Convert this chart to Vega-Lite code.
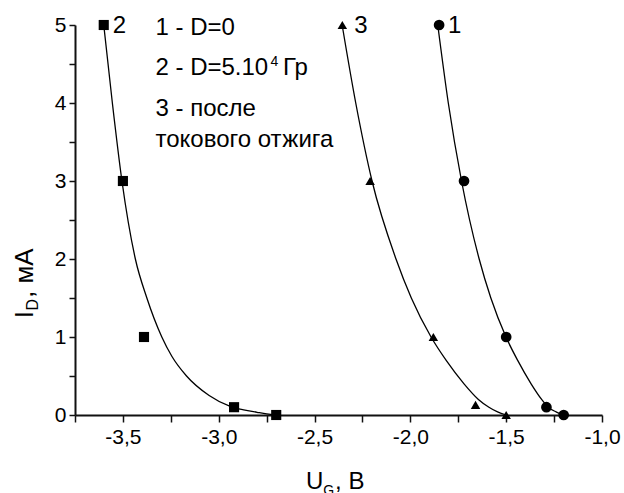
{
  "$schema": "https://vega.github.io/schema/vega-lite/v6.json",
  "width": 527,
  "height": 390,
  "autosize": {"type": "none"},
  "padding": {"left": 75, "top": 25, "right": 22, "bottom": 78},
  "background": "white",
  "config": {"view": {"stroke": null}, "font": "Liberation Sans"},
  "datasets": {
    "curves": [
      {"series": "1", "U": -1.857, "I": 5}, {"series": "1", "U": -1.802, "I": 4}, {"series": "1", "U": -1.733, "I": 3},
      {"series": "1", "U": -1.641, "I": 2}, {"series": "1", "U": -1.58, "I": 1.5}, {"series": "1", "U": -1.501, "I": 1},
      {"series": "1", "U": -1.44, "I": 0.7}, {"series": "1", "U": -1.37, "I": 0.4}, {"series": "1", "U": -1.315, "I": 0.2},
      {"series": "1", "U": -1.28, "I": 0.1}, {"series": "1", "U": -1.24, "I": 0.04}, {"series": "1", "U": -1.2, "I": 0},
      {"series": "2", "U": -3.6, "I": 5}, {"series": "2", "U": -3.555, "I": 4}, {"series": "2", "U": -3.505, "I": 3},
      {"series": "2", "U": -3.435, "I": 2}, {"series": "2", "U": -3.375, "I": 1.5}, {"series": "2", "U": -3.297, "I": 1},
      {"series": "2", "U": -3.244, "I": 0.75}, {"series": "2", "U": -3.168, "I": 0.5}, {"series": "2", "U": -3.05, "I": 0.25},
      {"series": "2", "U": -2.94, "I": 0.11}, {"series": "2", "U": -2.87, "I": 0.065}, {"series": "2", "U": -2.8, "I": 0.035},
      {"series": "2", "U": -2.75, "I": 0.015}, {"series": "2", "U": -2.7, "I": 0},
      {"series": "3", "U": -2.356, "I": 5}, {"series": "3", "U": -2.285, "I": 4}, {"series": "3", "U": -2.2, "I": 3},
      {"series": "3", "U": -2.075, "I": 2}, {"series": "3", "U": -1.995, "I": 1.5}, {"series": "3", "U": -1.892, "I": 1},
      {"series": "3", "U": -1.813, "I": 0.7}, {"series": "3", "U": -1.72, "I": 0.4}, {"series": "3", "U": -1.645, "I": 0.2},
      {"series": "3", "U": -1.59, "I": 0.1}, {"series": "3", "U": -1.545, "I": 0.04}, {"series": "3", "U": -1.5, "I": 0}
    ],
    "points": [
      {"series": "1", "U": -1.85, "I": 5}, {"series": "1", "U": -1.72, "I": 3}, {"series": "1", "U": -1.5, "I": 1},
      {"series": "1", "U": -1.29, "I": 0.1}, {"series": "1", "U": -1.2, "I": 0},
      {"series": "2", "U": -3.6, "I": 5}, {"series": "2", "U": -3.5, "I": 3}, {"series": "2", "U": -3.39, "I": 1},
      {"series": "2", "U": -2.92, "I": 0.1}, {"series": "2", "U": -2.7, "I": 0},
      {"series": "3", "U": -2.355, "I": 5}, {"series": "3", "U": -2.21, "I": 3}, {"series": "3", "U": -1.88, "I": 1},
      {"series": "3", "U": -1.66, "I": 0.13}, {"series": "3", "U": -1.5, "I": 0}
    ],
    "tags": [
      {"text": "1", "U": -1.85, "I": 5},
      {"text": "2", "U": -3.6, "I": 5},
      {"text": "3", "U": -2.34, "I": 5}
    ],
    "notes": [
      {"text": "1 - D=0", "U": -3.33, "I": 4.872},
      {"text": "2 - D=5.10", "U": -3.33, "I": 4.359},
      {"text": "Гр", "U": -2.665, "I": 4.359},
      {"text": "3 - после", "U": -3.33, "I": 3.833},
      {"text": "токового отжига", "U": -3.33, "I": 3.44},
      {"text": "U", "U": -2.544, "I": -0.95},
      {"text": ", В", "U": -2.393, "I": -0.95}
    ],
    "small": [
      {"text": "4", "U": -2.73, "I": 4.47},
      {"text": "G", "U": -2.454, "I": -1.027}
    ],
    "ytitle": [
      {"text": "I", "U": -3.969, "I": 1.24},
      {"text": ", мА", "U": -3.969, "I": 1.5}
    ],
    "ysub": [
      {"text": "D", "U": -3.941, "I": 1.34}
    ]
  },
  "encoding": {
    "x": {
      "field": "U", "type": "quantitative",
      "scale": {"domain": [-3.75, -1.0], "nice": false, "zero": false},
      "axis": {
        "title": null, "grid": false,
        "values": [-3.75, -3.5, -3.25, -3.0, -2.75, -2.5, -2.25, -2.0, -1.75, -1.5, -1.25, -1.0],
        "labelExpr": "(datum.value * 2) % 1 === 0 ? replace(replace(format(datum.value, '.1f'), '.', ','), '\u2212', '-') : ''",
        "domainColor": "#111", "domainWidth": 2,
        "tickColor": "#111", "tickWidth": 1.5, "tickSize": 7,
        "labelFont": "Liberation Sans", "labelFontSize": 21, "labelColor": "black",
        "labelPadding": 4, "labelOverlap": false, "labelFlush": false, "labelBound": false,
        "encode": {"ticks": {"update": {"y2": {"signal": "(datum.value * 2) % 1 === 0 ? 7 : 4"}}}}
      }
    },
    "y": {
      "field": "I", "type": "quantitative",
      "scale": {"domain": [0, 5], "nice": false, "zero": false},
      "axis": {
        "title": null, "grid": false,
        "values": [0, 0.5, 1, 1.5, 2, 2.5, 3, 3.5, 4, 4.5, 5],
        "labelExpr": "datum.value % 1 === 0 ? format(datum.value, 'd') : ''",
        "domainColor": "#111", "domainWidth": 2,
        "tickColor": "#111", "tickWidth": 1.5, "tickSize": 6,
        "labelFont": "Liberation Sans", "labelFontSize": 21, "labelColor": "black",
        "labelPadding": 3, "labelOverlap": false, "labelFlush": false, "labelBound": false,
        "encode": {"ticks": {"update": {"x2": {"signal": "datum.value % 1 === 0 ? -6 : -3.5"}}}}
      }
    }
  },
  "layer": [
    {
      "data": {"name": "curves"},
      "mark": {"type": "line", "interpolate": "monotone", "color": "black", "strokeWidth": 1.3},
      "encoding": {"detail": {"field": "series"}}
    },
    {
      "data": {"name": "points"},
      "mark": {"type": "point", "filled": true, "color": "black", "opacity": 1},
      "encoding": {
        "shape": {"field": "series", "type": "nominal", "legend": null,
          "scale": {"domain": ["1", "2", "3"], "range": ["circle", "square", "triangle-up"]}},
        "size": {"field": "series", "type": "nominal", "legend": null,
          "scale": {"domain": ["1", "2", "3"], "range": [115, 90, 210]}}
      }
    },
    {
      "data": {"name": "tags"},
      "mark": {"type": "text", "align": "left", "baseline": "middle", "dx": 9, "dy": 1, "fontSize": 24, "font": "Liberation Sans", "color": "black"},
      "encoding": {"text": {"field": "text"}}
    },
    {
      "data": {"name": "notes"},
      "mark": {"type": "text", "align": "left", "baseline": "alphabetic", "fontSize": 24, "font": "Liberation Sans", "color": "black"},
      "encoding": {"text": {"field": "text"}}
    },
    {
      "data": {"name": "small"},
      "mark": {"type": "text", "align": "left", "baseline": "alphabetic", "fontSize": 14, "font": "Liberation Sans", "color": "black"},
      "encoding": {"text": {"field": "text"}}
    },
    {
      "data": {"name": "ytitle"},
      "mark": {"type": "text", "align": "left", "baseline": "alphabetic", "angle": 270, "fontSize": 26, "font": "Liberation Sans", "color": "black"},
      "encoding": {"text": {"field": "text"}}
    },
    {
      "data": {"name": "ysub"},
      "mark": {"type": "text", "align": "left", "baseline": "alphabetic", "angle": 270, "fontSize": 16, "font": "Liberation Sans", "color": "black"},
      "encoding": {"text": {"field": "text"}}
    }
  ]
}
